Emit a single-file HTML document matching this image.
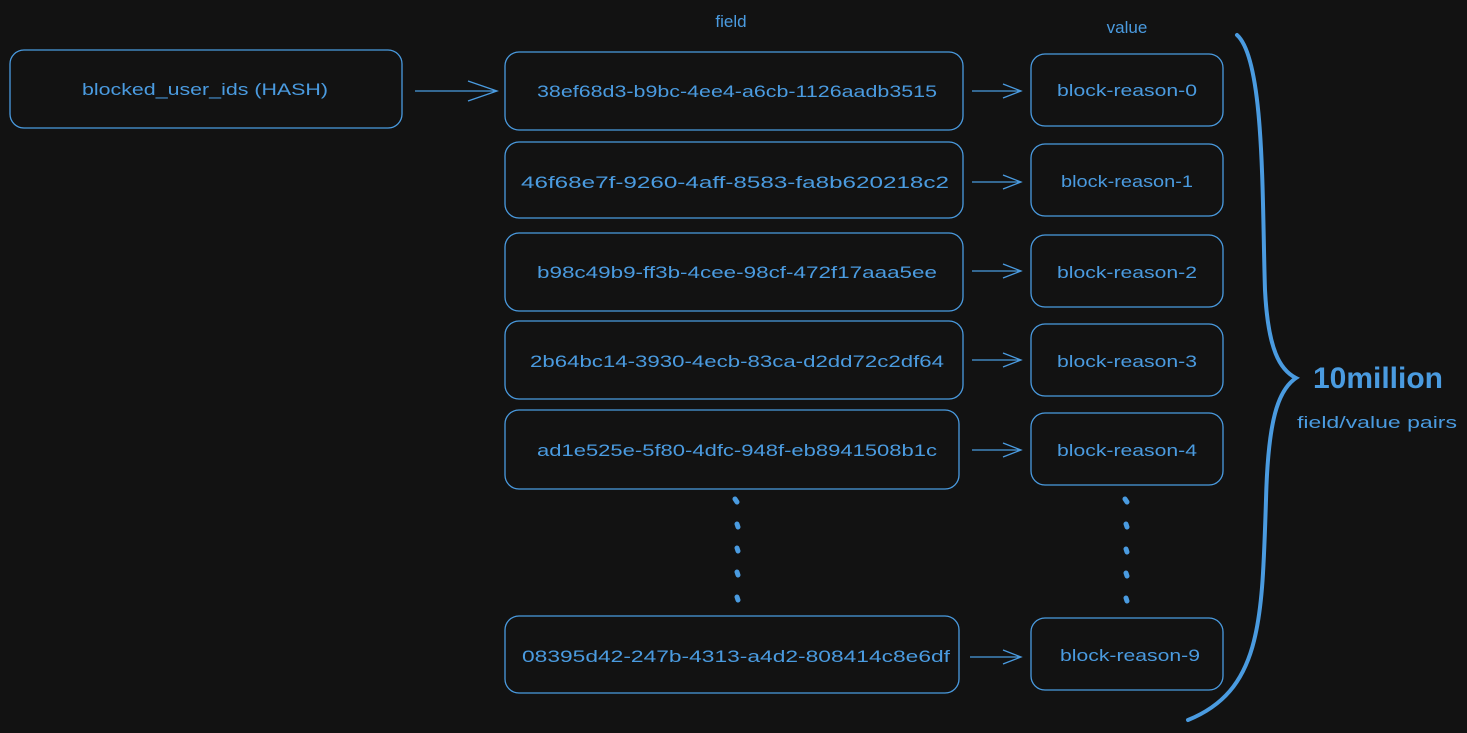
<!DOCTYPE html>
<html><head><meta charset="utf-8"><style>
html,body{margin:0;padding:0;background:#121212;}
svg{display:block}
text{font-family:"Liberation Sans",sans-serif;fill:#4a9be0;}
</style></head><body>
<svg width="1467" height="733" viewBox="0 0 1467 733" xmlns="http://www.w3.org/2000/svg">
<rect width="1467" height="733" fill="#121212"/>
<g fill="none" stroke="#4a9be0" stroke-width="1.3">
<rect x="10" y="50" width="392" height="78" rx="14"/>
<rect x="505" y="52" width="458" height="78" rx="14"/>
<rect x="505" y="142" width="458" height="76" rx="14"/>
<rect x="505" y="233" width="458" height="78" rx="14"/>
<rect x="505" y="321" width="458" height="78" rx="14"/>
<rect x="505" y="410" width="454" height="79" rx="14"/>
<rect x="505" y="616" width="454" height="77" rx="14"/>
<rect x="1031" y="54" width="192" height="72" rx="14"/>
<rect x="1031" y="144" width="192" height="72" rx="14"/>
<rect x="1031" y="235" width="192" height="72" rx="14"/>
<rect x="1031" y="324" width="192" height="72" rx="14"/>
<rect x="1031" y="413" width="192" height="72" rx="14"/>
<rect x="1031" y="618" width="192" height="72" rx="14"/>
<path d="M415 91 H497 M468 81 L497 91 L468 101"/>
<path d="M972 91 H1021 M1003 84 L1021 91 L1003 98"/>
<path d="M972 182 H1021 M1003 175 L1021 182 L1003 189"/>
<path d="M972 271 H1021 M1003 264 L1021 271 L1003 278"/>
<path d="M972 360 H1021 M1003 353 L1021 360 L1003 367"/>
<path d="M972 450 H1021 M1003 443 L1021 450 L1003 457"/>
<path d="M970 657 H1021 M1003 650 L1021 657 L1003 664"/>
</g>
<g stroke="#4a9be0" stroke-width="5" stroke-linecap="round">
<path d="M735 499 L737 502 M737 524 L738 527 M737 548 L738 551 M737 572 L738 575 M737 597 L738 600"/>
<path d="M1125 499 L1127 502 M1126 524 L1127 527 M1126 549 L1127 552 M1126 573 L1127 576 M1126 598 L1127 601"/>
</g>
<path d="M1237 35 C1265 60 1262 200 1265 290 C1268 350 1280 370 1296 378 C1278 390 1268 420 1266 500 C1262 620 1262 690 1188 720" fill="none" stroke="#4a9be0" stroke-width="4" stroke-linecap="round"/>
<g font-size="17" text-anchor="middle">
<text x="731" y="27">field</text>
<text x="1127" y="33">value</text>
<text x="205" y="95" textLength="246" lengthAdjust="spacingAndGlyphs">blocked_user_ids (HASH)</text>
<text x="737" y="97" textLength="400" lengthAdjust="spacingAndGlyphs">38ef68d3-b9bc-4ee4-a6cb-1126aadb3515</text>
<text x="735" y="188" textLength="428" lengthAdjust="spacingAndGlyphs">46f68e7f-9260-4aff-8583-fa8b620218c2</text>
<text x="737" y="278" textLength="400" lengthAdjust="spacingAndGlyphs">b98c49b9-ff3b-4cee-98cf-472f17aaa5ee</text>
<text x="737" y="367" textLength="414" lengthAdjust="spacingAndGlyphs">2b64bc14-3930-4ecb-83ca-d2dd72c2df64</text>
<text x="737" y="456" textLength="400" lengthAdjust="spacingAndGlyphs">ad1e525e-5f80-4dfc-948f-eb8941508b1c</text>
<text x="736" y="662" textLength="428" lengthAdjust="spacingAndGlyphs">08395d42-247b-4313-a4d2-808414c8e6df</text>
<text x="1127" y="96" textLength="140" lengthAdjust="spacingAndGlyphs">block-reason-0</text>
<text x="1127" y="187" textLength="132" lengthAdjust="spacingAndGlyphs">block-reason-1</text>
<text x="1127" y="278" textLength="140" lengthAdjust="spacingAndGlyphs">block-reason-2</text>
<text x="1127" y="367" textLength="140" lengthAdjust="spacingAndGlyphs">block-reason-3</text>
<text x="1127" y="456" textLength="140" lengthAdjust="spacingAndGlyphs">block-reason-4</text>
<text x="1130" y="661" textLength="140" lengthAdjust="spacingAndGlyphs">block-reason-9</text>
</g>
<text x="1313" y="388" font-size="30" font-weight="bold" textLength="130" lengthAdjust="spacingAndGlyphs">10million</text>
<text x="1297" y="428" font-size="17" textLength="160" lengthAdjust="spacingAndGlyphs">field/value pairs</text>
</svg>
</body></html>
